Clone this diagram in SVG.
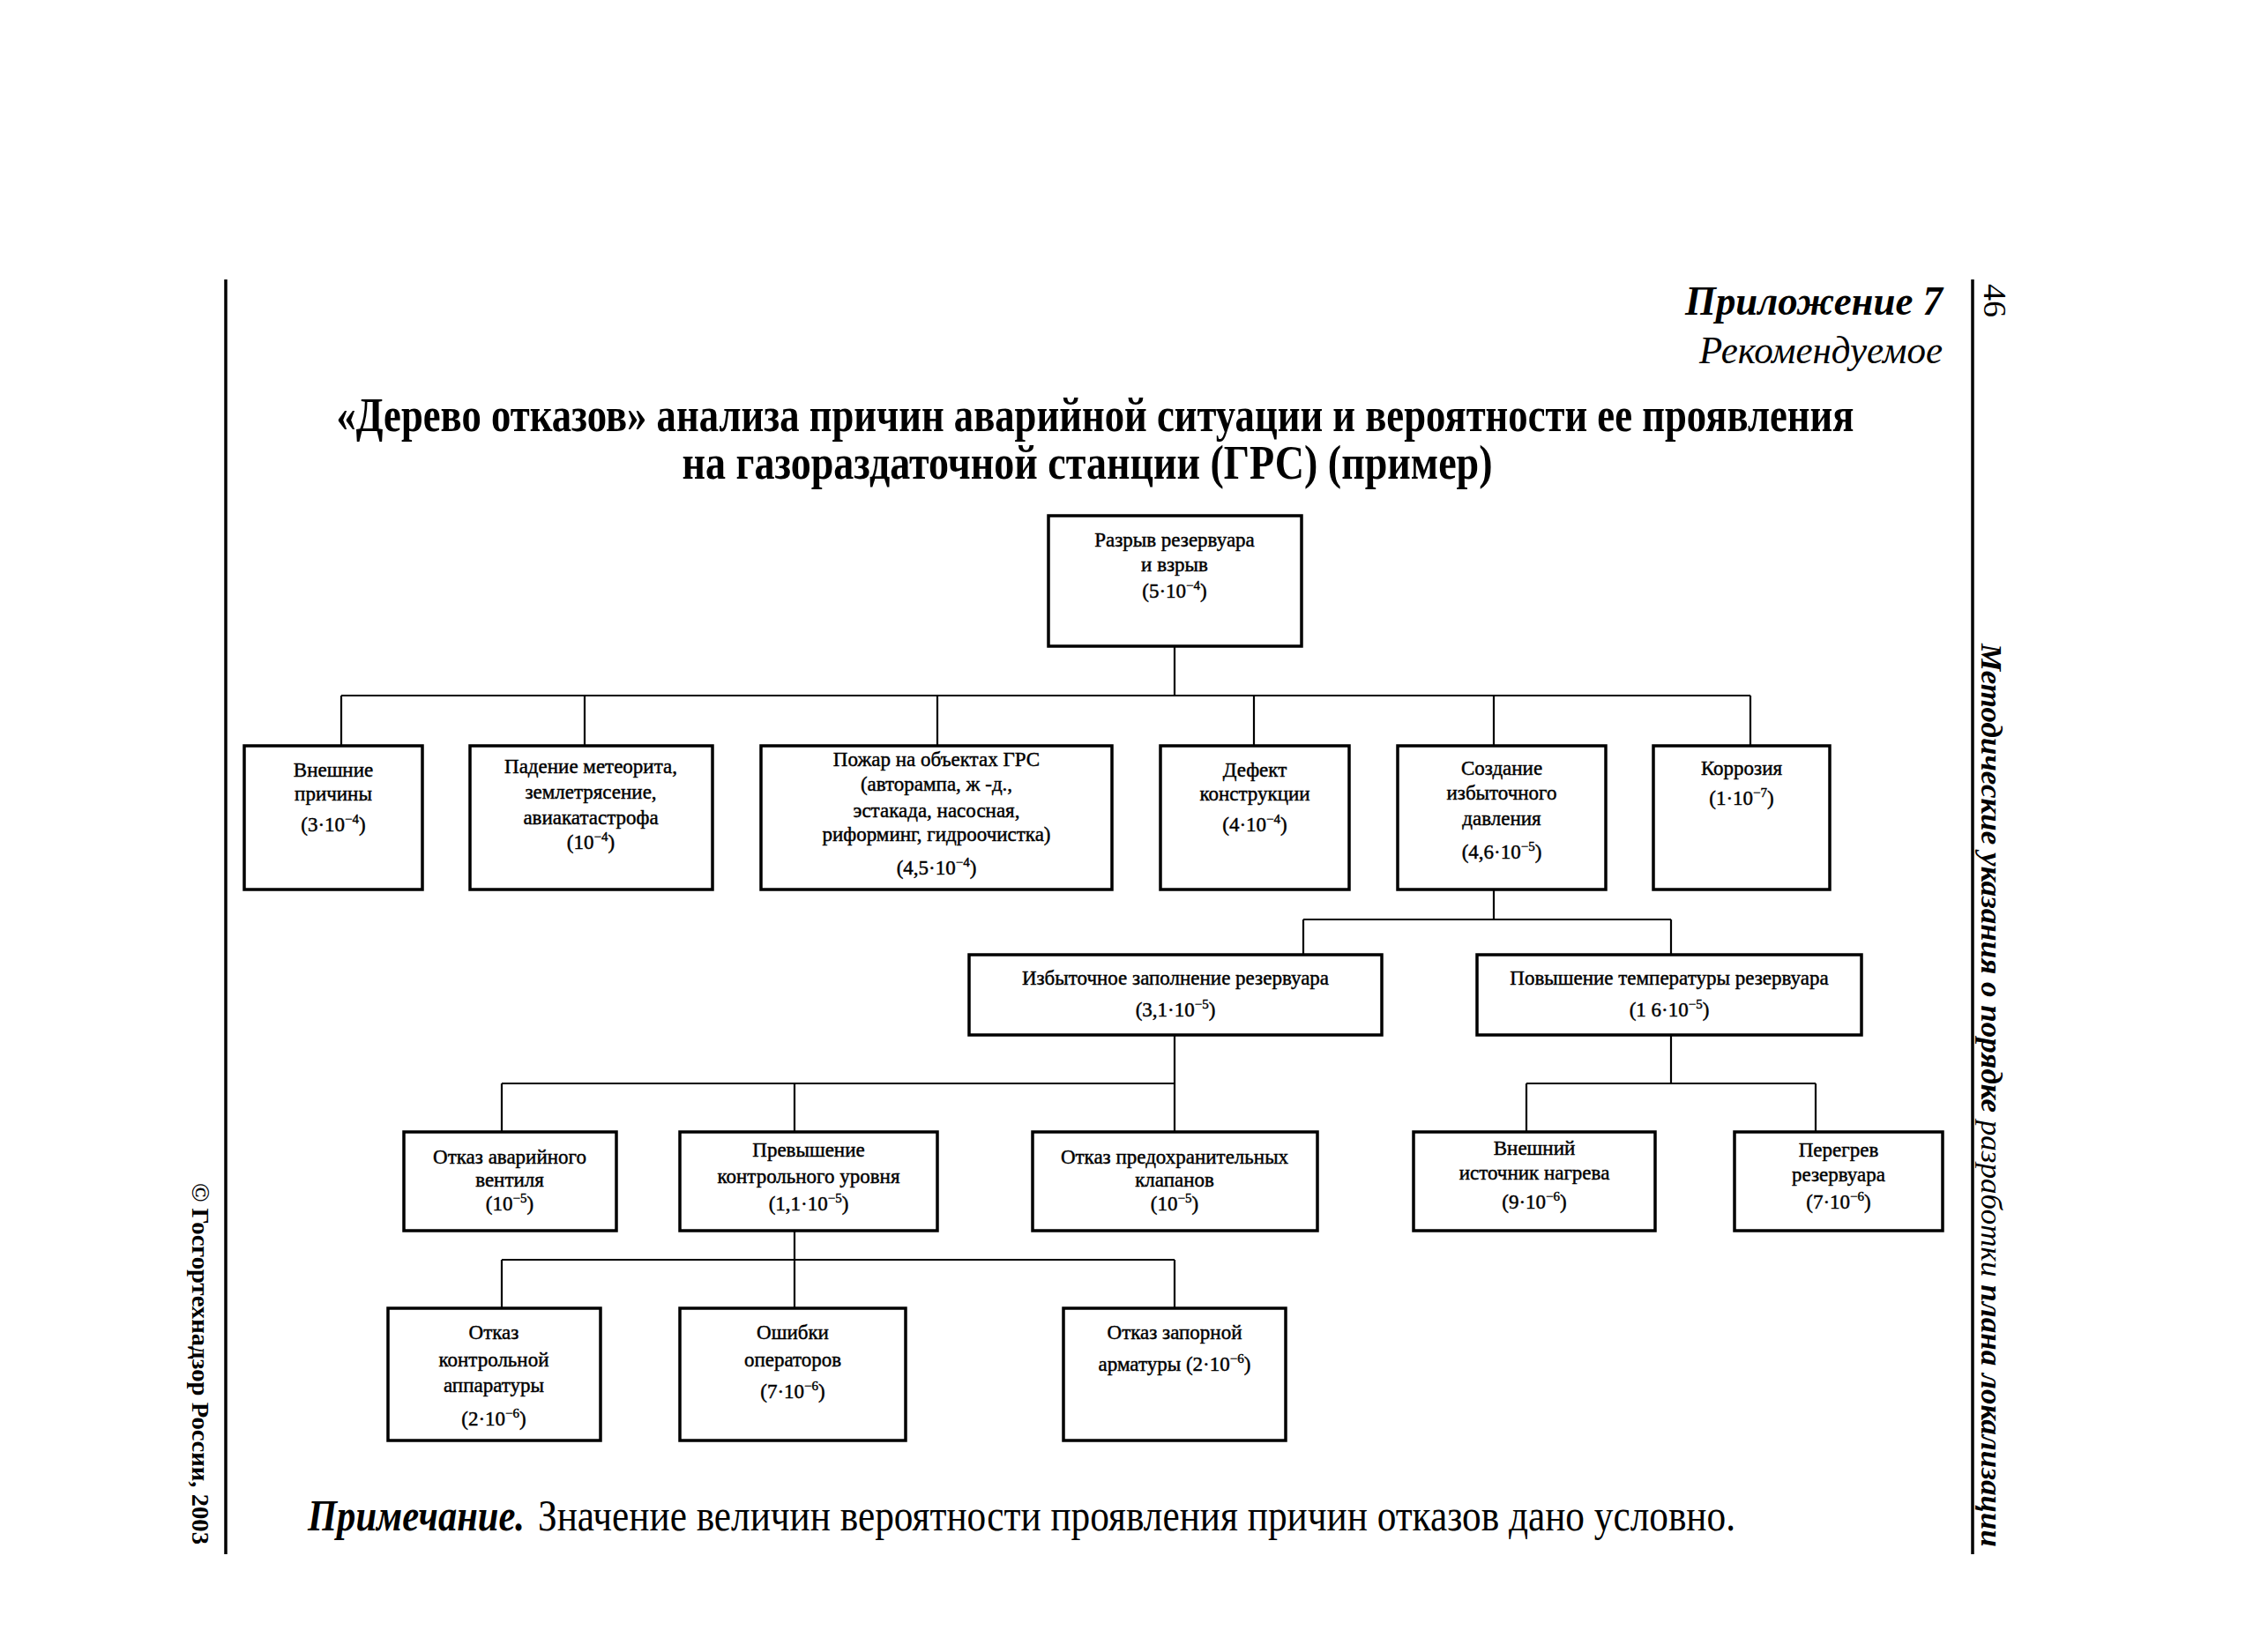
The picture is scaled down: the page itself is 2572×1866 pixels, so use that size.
<svg xmlns="http://www.w3.org/2000/svg" width="2572" height="1866" viewBox="0 0 2572 1866">
<style>
.bg{fill:#fff}
.box{fill:#fff;stroke:#000;stroke-width:3.5}
.con{fill:none;stroke:#000;stroke-width:2.2}
.rule{stroke:#000;stroke-width:3.5}
.t{font-family:"Liberation Serif","Times New Roman",serif;font-size:23px;text-anchor:middle;fill:#000;stroke:#000;stroke-width:0.45}
.sup{font-size:15px}
.title{font-family:"Liberation Serif","Times New Roman",serif;font-weight:bold;font-size:54px;text-anchor:middle;fill:#000}
.hdr{font-family:"Liberation Serif","Times New Roman",serif;font-style:italic;text-anchor:end;fill:#000}
.side{font-family:"Liberation Serif","Times New Roman",serif;fill:#000}
.note{font-family:"Liberation Serif","Times New Roman",serif;font-size:50px;fill:#000}
</style>
<rect class="bg" x="0" y="0" width="2572" height="1866"/>

<!-- page rules -->
<line class="rule" x1="256" y1="317" x2="256" y2="1763"/>
<line class="rule" x1="2237" y1="317" x2="2237" y2="1763"/>

<!-- header -->
<text class="hdr" x="2203" y="357" font-size="46" font-weight="bold" textLength="292" lengthAdjust="spacingAndGlyphs">Приложение 7</text>
<text class="hdr" x="2203" y="412" font-size="44" textLength="276" lengthAdjust="spacingAndGlyphs">Рекомендуемое</text>
<text class="side" transform="translate(2250,322) rotate(90)" font-size="36" textLength="38" lengthAdjust="spacingAndGlyphs">46</text>
<text class="side" transform="translate(2247,730) rotate(90)" font-size="34" font-style="italic" textLength="1025" lengthAdjust="spacingAndGlyphs"><tspan font-weight="bold">Методические указания о порядке</tspan> разработки <tspan font-weight="bold">плана локализации</tspan></text>
<text class="side" transform="translate(218,1342) rotate(90)" font-size="28" font-weight="bold" textLength="410" lengthAdjust="spacingAndGlyphs">© Госгортехнадзор России, 2003</text>

<!-- title -->
<text class="title" x="1242" y="489" textLength="1721" lengthAdjust="spacingAndGlyphs">«Дерево отказов» анализа причин аварийной ситуации и вероятности ее проявления</text>
<text class="title" x="1233" y="543" textLength="919" lengthAdjust="spacingAndGlyphs">на газораздаточной станции (ГРС) (пример)</text>

<!-- connectors -->
<g id="connectors">
<path class="con" d="M1332 733 V789 M387 789 H1985 M387 789 V846 M663 789 V846 M1063 789 V846 M1422 789 V846 M1694 789 V846 M1985 789 V846"/>
<path class="con" d="M1694 1009 V1043 M1478 1043 H1895 M1478 1043 V1083 M1895 1043 V1083"/>
<path class="con" d="M1332 1174 V1284 M569 1229 H1332 M569 1229 V1284 M901 1229 V1284"/>
<path class="con" d="M1895 1174 V1229 M1731 1229 H2059 M1731 1229 V1284 M2059 1229 V1284"/>
<path class="con" d="M901 1396 V1429 M569 1429 H1332 M569 1429 V1484 M901 1429 V1484 M1332 1429 V1484"/>
</g>

<!-- nodes -->
<g id="n-top">
<rect class="box" x="1189" y="585" width="287" height="148"/>
<text class="t" x="1332" y="620">Разрыв резервуара</text>
<text class="t" x="1332" y="648">и взрыв</text>
<text class="t" x="1332" y="678">(5·10<tspan class="sup" dy="-9">−4</tspan><tspan dy="9">)</tspan></text>
</g>

<g id="n-external">
<rect class="box" x="277" y="846" width="202" height="163"/>
<text class="t" x="378" y="881">Внешние</text>
<text class="t" x="378" y="908">причины</text>
<text class="t" x="378" y="943">(3·10<tspan class="sup" dy="-9">−4</tspan><tspan dy="9">)</tspan></text>
</g>

<g id="n-meteor">
<rect class="box" x="533" y="846" width="275" height="163"/>
<text class="t" x="670" y="877">Падение метеорита,</text>
<text class="t" x="670" y="906">землетрясение,</text>
<text class="t" x="670" y="935">авиакатастрофа</text>
<text class="t" x="670" y="963">(10<tspan class="sup" dy="-9">−4</tspan><tspan dy="9">)</tspan></text>
</g>

<g id="n-fire">
<rect class="box" x="863" y="846" width="398" height="163"/>
<text class="t" x="1062" y="869">Пожар на объектах ГРС</text>
<text class="t" x="1062" y="897">(авторампа, ж -д.,</text>
<text class="t" x="1062" y="927">эстакада, насосная,</text>
<text class="t" x="1062" y="954">риформинг, гидроочистка)</text>
<text class="t" x="1062" y="992">(4,5·10<tspan class="sup" dy="-9">−4</tspan><tspan dy="9">)</tspan></text>
</g>

<g id="n-defect">
<rect class="box" x="1316" y="846" width="214" height="163"/>
<text class="t" x="1423" y="881">Дефект</text>
<text class="t" x="1423" y="908">конструкции</text>
<text class="t" x="1423" y="943">(4·10<tspan class="sup" dy="-9">−4</tspan><tspan dy="9">)</tspan></text>
</g>

<g id="n-overpressure">
<rect class="box" x="1585" y="846" width="236" height="163"/>
<text class="t" x="1703" y="879">Создание</text>
<text class="t" x="1703" y="907">избыточного</text>
<text class="t" x="1703" y="936">давления</text>
<text class="t" x="1703" y="974">(4,6·10<tspan class="sup" dy="-9">−5</tspan><tspan dy="9">)</tspan></text>
</g>

<g id="n-corrosion">
<rect class="box" x="1875" y="846" width="200" height="163"/>
<text class="t" x="1975" y="879">Коррозия</text>
<text class="t" x="1975" y="913">(1·10<tspan class="sup" dy="-9">−7</tspan><tspan dy="9">)</tspan></text>
</g>

<g id="n-overfill">
<rect class="box" x="1099" y="1083" width="468" height="91"/>
<text class="t" x="1333" y="1117">Избыточное заполнение резервуара</text>
<text class="t" x="1333" y="1153">(3,1·10<tspan class="sup" dy="-9">−5</tspan><tspan dy="9">)</tspan></text>
</g>

<g id="n-temp">
<rect class="box" x="1675" y="1083" width="436" height="91"/>
<text class="t" x="1893" y="1117">Повышение температуры резервуара</text>
<text class="t" x="1893" y="1153">(1 6·10<tspan class="sup" dy="-9">−5</tspan><tspan dy="9">)</tspan></text>
</g>

<g id="n-valve">
<rect class="box" x="458" y="1284" width="241" height="112"/>
<text class="t" x="578" y="1320">Отказ аварийного</text>
<text class="t" x="578" y="1346">вентиля</text>
<text class="t" x="578" y="1373">(10<tspan class="sup" dy="-9">−5</tspan><tspan dy="9">)</tspan></text>
</g>

<g id="n-level">
<rect class="box" x="771" y="1284" width="292" height="112"/>
<text class="t" x="917" y="1312">Превышение</text>
<text class="t" x="917" y="1342">контрольного уровня</text>
<text class="t" x="917" y="1373">(1,1·10<tspan class="sup" dy="-9">−5</tspan><tspan dy="9">)</tspan></text>
</g>

<g id="n-safety">
<rect class="box" x="1171" y="1284" width="323" height="112"/>
<text class="t" x="1332" y="1320">Отказ предохранительных</text>
<text class="t" x="1332" y="1346">клапанов</text>
<text class="t" x="1332" y="1373">(10<tspan class="sup" dy="-9">−5</tspan><tspan dy="9">)</tspan></text>
</g>

<g id="n-heat">
<rect class="box" x="1603" y="1284" width="274" height="112"/>
<text class="t" x="1740" y="1310">Внешний</text>
<text class="t" x="1740" y="1338">источник нагрева</text>
<text class="t" x="1740" y="1371">(9·10<tspan class="sup" dy="-9">−6</tspan><tspan dy="9">)</tspan></text>
</g>

<g id="n-overheat">
<rect class="box" x="1967" y="1284" width="236" height="112"/>
<text class="t" x="2085" y="1312">Перегрев</text>
<text class="t" x="2085" y="1340">резервуара</text>
<text class="t" x="2085" y="1371">(7·10<tspan class="sup" dy="-9">−6</tspan><tspan dy="9">)</tspan></text>
</g>

<g id="n-instr">
<rect class="box" x="440" y="1484" width="241" height="150"/>
<text class="t" x="560" y="1519">Отказ</text>
<text class="t" x="560" y="1550">контрольной</text>
<text class="t" x="560" y="1579">аппаратуры</text>
<text class="t" x="560" y="1617">(2·10<tspan class="sup" dy="-9">−6</tspan><tspan dy="9">)</tspan></text>
</g>

<g id="n-operator">
<rect class="box" x="771" y="1484" width="256" height="150"/>
<text class="t" x="899" y="1519">Ошибки</text>
<text class="t" x="899" y="1550">операторов</text>
<text class="t" x="899" y="1586">(7·10<tspan class="sup" dy="-9">−6</tspan><tspan dy="9">)</tspan></text>
</g>

<g id="n-shutoff">
<rect class="box" x="1206" y="1484" width="252" height="150"/>
<text class="t" x="1332" y="1519">Отказ запорной</text>
<text class="t" x="1332" y="1555">арматуры (2·10<tspan class="sup" dy="-9">−6</tspan><tspan dy="9">)</tspan></text>
</g>

<!-- note -->
<text class="note" x="349" y="1736" font-weight="bold" font-style="italic" textLength="246" lengthAdjust="spacingAndGlyphs">Примечание.</text>
<text class="note" x="610" y="1736" textLength="1358" lengthAdjust="spacingAndGlyphs">Значение величин вероятности проявления причин отказов дано условно.</text>
</svg>
